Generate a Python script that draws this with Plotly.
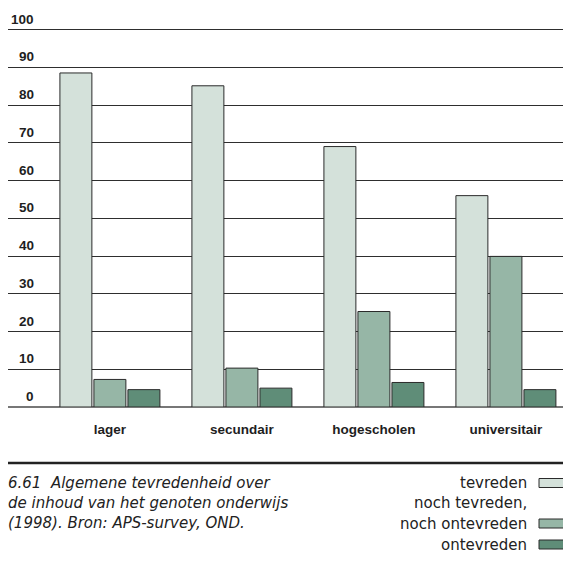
import plotly.graph_objects as go

categories = ["lager", "secundair", "hogescholen", "universitair"]
series_names = ["tevreden", "noch tevreden,<br>noch ontevreden", "ontevreden"]
tevreden = [88.5, 85.1, 69.0, 56.0]
noch = [7.3, 10.3, 25.3, 39.9]
ontevreden = [4.6, 5.0, 6.5, 4.6]
y_ticks = [0, 10, 20, 30, 40, 50, 60, 70, 80, 90, 100]
colors = ["#d4e1da", "#96b6a6", "#5f8d78"]
caption = ["6.61  Algemene tevredenheid over",
           "de inhoud van het genoten onderwijs",
           "(1998). Bron: APS-survey, OND."]
legend_labels = ["tevreden", "noch tevreden,", "noch ontevreden", "ontevreden"]

OFF = 8  # page body margin
W, H = 563, 559
ML, MR, MT, MB = 0, 0, 14, 160
plot_h = H - MT - MB
plot_w = W - ML - MR

def py(px):  # window pixel y -> paper y
    return (H - MB - (px - OFF)) / plot_h

def pxx(px):  # window pixel x -> paper x
    return (px - OFF - ML) / plot_w

fig = go.Figure()
for name, vals, c in zip(series_names, [tevreden, noch, ontevreden], colors):
    fig.add_trace(go.Bar(x=categories, y=vals, name=name,
                         marker=dict(color=c, line=dict(color="#2b2b2b", width=1)),
                         showlegend=False))

annotations = []
for t in y_ticks:
    annotations.append(dict(x=pxx(36), y=t, xref="paper", yref="y", text=f"<b>{t}</b>",
                            showarrow=False, xanchor="right", yanchor="bottom", yshift=1,
                            font=dict(family="Liberation Sans, Arial", size=13.5, color="#1e1e1e")))

for i, line in enumerate(caption):
    annotations.append(dict(x=pxx(6), y=py(483 + 20 * i), xref="paper", yref="paper",
                            text=f"<i>{line}</i>", showarrow=False, xanchor="left", yanchor="middle",
                            font=dict(family="DejaVu Sans", size=15, color="#222")))

leg_y = [483, 503, 523.5, 544.5]
for lbl, yy in zip(legend_labels, leg_y):
    annotations.append(dict(x=pxx(529), y=py(yy), xref="paper", yref="paper",
                            text=lbl, showarrow=False, xanchor="right", yanchor="middle",
                            font=dict(family="DejaVu Sans", size=15, color="#222")))

shapes = [dict(type="line", xref="paper", yref="paper", x0=0, x1=1, y0=py(463), y1=py(463),
               line=dict(color="#222", width=2.5))]
for c, yy in zip(colors, [leg_y[0], leg_y[2], leg_y[3]]):
    shapes.append(dict(type="rect", xref="paper", yref="paper", x0=pxx(539), x1=pxx(576),
                       y0=py(yy - 4.5), y1=py(yy + 4.5), fillcolor=c,
                       line=dict(color="#2b2b2b", width=1)))

fig.update_layout(
    width=W, height=H, margin=dict(l=ML, r=MR, t=MT, b=MB),
    paper_bgcolor="white", plot_bgcolor="white",
    barmode="group", bargap=0.227, bargroupgap=0.06,
    xaxis=dict(range=[-0.772, 3.493], showgrid=False, showline=False, ticks="",
               tickfont=dict(family="Liberation Sans, Arial", size=13.5, color="#1e1e1e", weight="bold"),
               ticklabelstandoff=12),
    yaxis=dict(range=[0, 102], tickvals=y_ticks, showticklabels=False, showgrid=True,
               gridcolor="#2e2e2e", gridwidth=1, zeroline=True, zerolinecolor="#777", zerolinewidth=1.5,
               showline=False),
    annotations=annotations, shapes=shapes,
    font=dict(family="Liberation Sans, Arial"),
)
fig.write_html("out.html")
